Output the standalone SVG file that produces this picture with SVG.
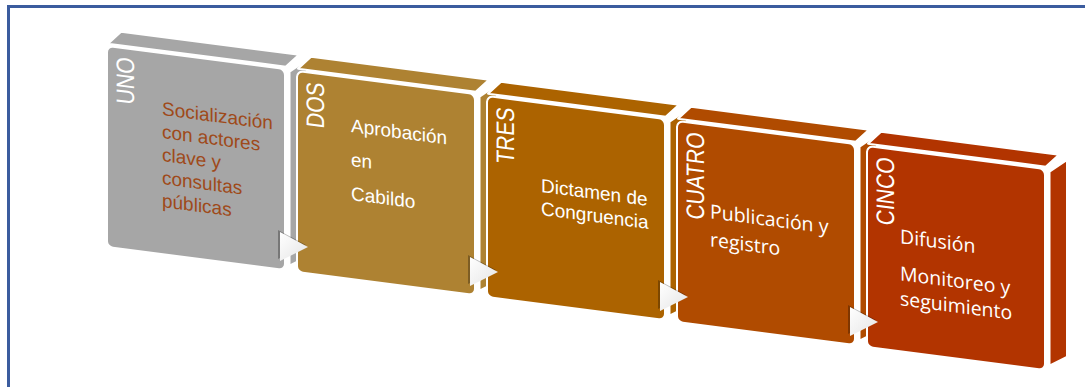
<svg xmlns="http://www.w3.org/2000/svg" width="1085" height="387" viewBox="0 0 1085 387">
<style>
.face{stroke:#fff;stroke-width:2;stroke-linejoin:round}
.lbl{font-family:"Liberation Sans",Arial,sans-serif;font-size:21px;fill:#fff;text-anchor:end}
.t1{font-family:"Liberation Sans",Arial,sans-serif;font-size:19px;fill:#9F4A1A}
.t2{font-family:"Liberation Sans",Arial,sans-serif;font-size:19px;fill:#fff}
.t3{font-family:"Open Sans","Liberation Sans",sans-serif;font-size:19.5px;fill:#fff}
.arr{fill:url(#ag)}
.ash{fill:#000;fill-opacity:0.28}
</style>
<defs>
<linearGradient id="ag" x1="0" y1="0" x2="1" y2="1">
<stop offset="0" stop-color="#ffffff"/>
<stop offset="1" stop-color="#e4e4e4"/>
</linearGradient>
<g id="shape">
<polygon class="face" points="182.5,2 200,-12 200,185 182.5,196"/>
<polygon class="face" points="1,-2.5 14,-16 192,-16 179,-2.5"/>
<rect class="face" x="0" y="0" width="178" height="201" rx="6"/>
</g>
</defs>
<path d="M8.5,387 V6.5 H1085" fill="none" stroke="#3B5C9E" stroke-width="3"/>

<g id="node1" transform="translate(107,46) skewY(7.37)" fill="#A6A6A6">
<use href="#shape"/>
<text class="lbl" transform="translate(27,9) rotate(-90) scale(1,1.2)">UNO</text>
<text class="t1" x="55" y="62">Socialización</text>
<text class="t1" x="55" y="85">con actores</text>
<text class="t1" x="55" y="108">clave y</text>
<text class="t1" x="55" y="131">consultas</text>
<text class="t1" x="55" y="154">públicas</text>
</g>

<g id="node2" transform="translate(297,71) skewY(7.37)" fill="#AE8232">
<use href="#shape"/>
<text class="lbl" transform="translate(27,9) rotate(-90) scale(1,1.2)">DOS</text>
<text class="t2" x="54" y="54">Aprobación</text>
<text class="t2" x="54" y="88">en</text>
<text class="t2" x="54" y="122">Cabildo</text>
</g>

<g id="node3" transform="translate(487,96) skewY(7.37)" fill="#AC6300">
<use href="#shape"/>
<text class="lbl" transform="translate(27,9) rotate(-90) scale(1,1.2)">TRES</text>
<text class="t2" x="54" y="89">Dictamen de</text>
<text class="t2" x="54" y="112">Congruencia</text>
</g>

<g id="node4" transform="translate(677,121) skewY(7.37)" fill="#B04B00">
<use href="#shape"/>
<text class="lbl" transform="translate(27,9) rotate(-90) scale(1,1.2)">CUATRO</text>
<text class="t3" x="33" y="93">Publicación y</text>
<text class="t3" x="33" y="121">registro</text>
</g>

<g id="node5" transform="translate(867,146) skewY(7.37)" fill="#B23400">
<use href="#shape"/>
<text class="lbl" transform="translate(27,9) rotate(-90) scale(1,1.2)">CINCO</text>
<text class="t3" x="33" y="93">Difusión</text>
<text class="t3" x="33" y="130">Monitoreo y</text>
<text class="t3" x="33" y="155">seguimiento</text>
</g>

<g id="connectors">
<polygon class="ash" points="278,230 306,245 278,259"/>
<polygon class="arr" points="280,232 308,247 280,261"/>
<polygon class="ash" points="468,255 496,270 468,284"/>
<polygon class="arr" points="470,257 498,272 470,286"/>
<polygon class="ash" points="658,280 686,295 658,309"/>
<polygon class="arr" points="660,282 688,297 660,311"/>
<polygon class="ash" points="848,305 876,320 848,334"/>
<polygon class="arr" points="850,307 878,322 850,336"/>
</g>
</svg>
